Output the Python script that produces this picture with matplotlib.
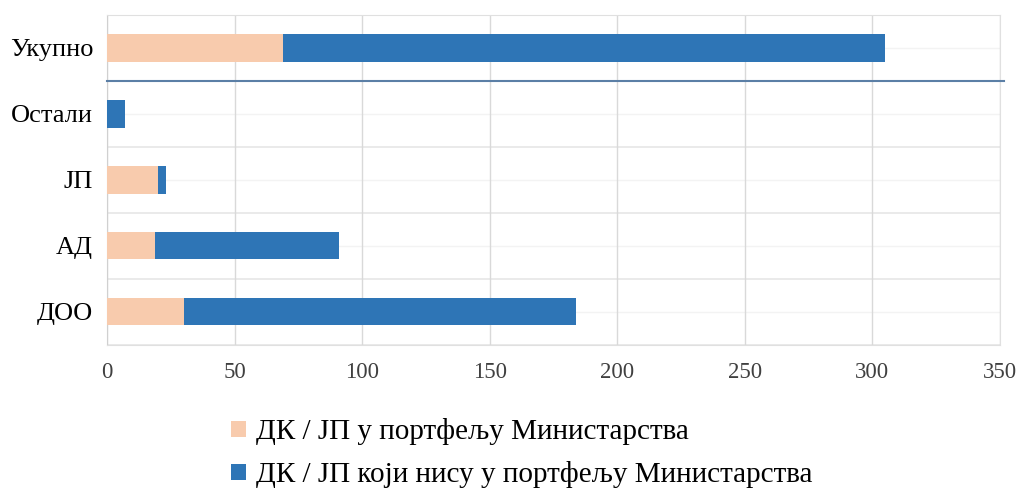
import matplotlib
matplotlib.use("Agg")
import matplotlib.pyplot as plt
import numpy as np

# data
categories = ['ДОО', 'АД', 'ЈП', 'Остали', 'Укупно']
in_portfolio = [30, 19, 20, 0, 69]
not_in_portfolio = [154, 72, 3, 7, 236]
legend_labels = ['ДК / ЈП у портфељу Министарства',
                 'ДК / ЈП који нису у портфељу Министарства']

plt.rcParams['font.family'] = ['Liberation Serif', 'DejaVu Serif']

fig = plt.figure(figsize=(10.2, 4.9), dpi=100)
ax = fig.add_axes([0.1049, 0.296, 0.8755, 0.6734])

y = np.arange(len(categories))
peach = '#f8cbad'
blue = '#2e75b6'

b1 = ax.barh(y, in_portfolio, height=0.41, color=peach, zorder=3, label=legend_labels[0])
b2 = ax.barh(y, not_in_portfolio, left=in_portfolio, height=0.41, color=blue, zorder=3,
             label=legend_labels[1])

ax.set_xlim(0, 350)
ax.set_ylim(-0.5, len(categories) - 0.5)
ax.set_xticks(np.arange(0, 351, 50))
ax.set_yticks(y)
ax.set_yticklabels(categories, fontsize=19, color='black')
ax.tick_params(axis='x', labelsize=16.5, labelcolor='#404040', length=0, pad=12)
ax.tick_params(axis='y', length=0, pad=10)

# grid
ax.grid(axis='x', color='#d9d9d9', lw=1, zorder=0)
for b in np.arange(-0.5, len(categories), 1.0):
    ax.axhline(b, color='#e6e6e6', lw=1.2, zorder=1)
for c in y:
    ax.axhline(c, color='#f3f3f3', lw=1, zorder=1)

# separator line above the total
ax.axhline(len(categories) - 1.5, xmin=0, xmax=1.004, color='#5b7fa6', lw=1.5,
           zorder=4, clip_on=False)

for side in ['top', 'right', 'bottom']:
    ax.spines[side].set_color('#e0e0e0')
ax.spines['left'].set_color('#d0d0d0')

fig.legend(handles=[b1, b2], labels=legend_labels, loc='upper left',
           bbox_to_anchor=(0.215, 0.17), frameon=False, fontsize=21,
           handlelength=0.5, handleheight=0.5, handletextpad=0.35,
           labelspacing=0.55, borderaxespad=0)

fig.savefig('out.png', dpi=100)
